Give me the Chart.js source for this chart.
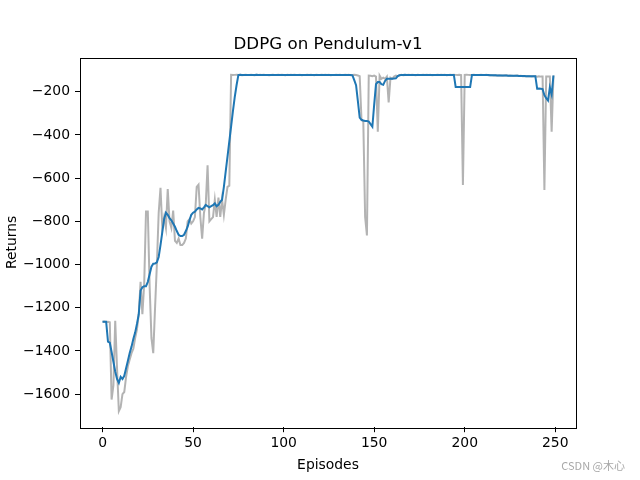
<!DOCTYPE html>
<html>
<head>
<meta charset="utf-8">
<script src="https://cdn.jsdelivr.net/npm/chart.js@4.4.0/dist/chart.umd.min.js"></script>
<style>
  html, body { margin: 0; padding: 0; background: #fff; }
  canvas { display: block; }
</style>
</head>
<body>
<canvas id="chart" width="640" height="480"></canvas>
<script>
// raw episode returns (grey)
const returns = [
  -1265, -1264, -1266, -1265, -1267, -1625, -1560, -1260, -1480, -1678,
  -1660, -1600, -1590, -1520, -1470, -1440, -1410, -1390, -1340, -1300,
  -1230, -1080, -1230, -1090, -755, -755, -1100, -1340, -1410, -1200,
  -1000, -760, -645, -830, -780, -830, -650, -800, -830, -750,
  -890, -900, -880, -910, -910, -900, -880, -800, -790, -810,
  -800, -780, -640, -630, -780, -880, -760, -720, -540, -800,
  -790, -780, -700, -780, -690, -780, -700, -770, -700, -640,
  -635, -122, -123, -122, -121, -123, -122, -124, -123, -122,
  -123, -122, -121, -123, -124, -122, -123, -122, -123, -121,
  -122, -123, -124, -123, -122, -123, -122, -121, -123, -122,
  -123, -124, -122, -123, -122, -123, -121, -122, -123, -122,
  -124, -123, -122, -121, -123, -122, -123, -124, -122, -123,
  -122, -121, -123, -122, -123, -122, -124, -123, -122, -121,
  -123, -122, -123, -122, -121, -123, -122, -124, -123, -122,
  -123, -125, -128, -330, -340, -780, -865, -125, -126, -128,
  -125, -130, -385, -125, -140, -135, -140, -130, -250, -135,
  -140, -130, -125, -128, -123, -122, -124, -123, -122, -121,
  -123, -122, -123, -124, -122, -123, -122, -121, -123, -122,
  -123, -122, -124, -123, -122, -121, -123, -122, -123, -122,
  -124, -123, -122, -123, -121, -122, -123, -122, -123, -632,
  -122, -121, -122, -123, -122, -121, -122, -123, -122, -121,
  -122, -123, -122, -124, -123, -124, -125, -124, -125, -124,
  -125, -126, -125, -124, -126, -125, -126, -127, -126, -125,
  -127, -126, -128, -127, -128, -127, -128, -129, -128, -128,
  -130, -128, -130, -130, -655, -130, -130, -130, -385, -125
];

// smoothed returns (blue)
const smoothed = [
  -1265, -1265, -1265, -1357, -1362, -1405, -1450, -1495, -1530, -1548,
  -1520, -1530, -1515, -1480, -1445, -1410, -1380, -1345, -1315, -1275,
  -1230, -1120, -1105, -1100, -1100, -1080, -1045, -1010, -996, -995,
  -990, -965, -910, -850, -790, -760, -770, -785, -795, -810,
  -825, -845, -862, -868, -868, -862, -845, -825, -795, -770,
  -760, -755, -745, -738, -740, -745, -735, -724, -730, -735,
  -730, -725, -717, -730, -724, -710, -700, -640, -570, -500,
  -430, -360, -290, -225, -170, -123, -122, -123, -122, -122,
  -123, -122, -122, -123, -123, -122, -123, -122, -122, -122,
  -122, -123, -123, -123, -122, -122, -122, -122, -123, -123,
  -123, -122, -122, -122, -122, -122, -122, -122, -123, -123,
  -123, -122, -122, -122, -122, -123, -123, -123, -123, -122,
  -122, -122, -122, -123, -123, -122, -122, -122, -122, -122,
  -122, -123, -123, -122, -122, -122, -122, -123, -124, -146,
  -170, -243, -320, -330, -333, -335, -335, -338, -350, -362,
  -260, -165, -155, -155, -165, -168, -150, -140, -140, -140,
  -140, -139, -138, -128, -124, -123, -123, -122, -123, -122,
  -122, -122, -123, -122, -122, -122, -122, -122, -122, -122,
  -122, -123, -122, -122, -122, -122, -122, -122, -122, -123,
  -122, -122, -122, -122, -122, -178, -178, -178, -178, -178,
  -178, -178, -178, -178, -122, -122, -122, -122, -122, -122,
  -123, -123, -123, -123, -124, -124, -124, -124, -125, -125,
  -125, -125, -125, -125, -126, -126, -126, -126, -126, -126,
  -127, -127, -127, -127, -128, -128, -128, -128, -128, -128,
  -186, -185, -186, -188, -216, -230, -241, -180, -213, -125
];

const episodes = returns.map((_, i) => i);
const xTicks = [0, 50, 100, 150, 200, 250];
const yTicks = [-1600, -1400, -1200, -1000, -800, -600, -400, -200];

const FONT = 'DejaVu Sans';
Chart.defaults.font.family = FONT;
Chart.defaults.color = '#000';

// axes box like matplotlib's default subplot (80..576 x 57.6..427.2)
const extras = {
  id: 'extras',
  afterDraw(chart) {
    const { ctx, chartArea: a } = chart;
    ctx.save();
    ctx.strokeStyle = '#000';
    ctx.lineWidth = 1;
    ctx.strokeRect(Math.round(a.left) + 0.5, Math.round(a.top) + 0.5,
      Math.round(a.right - a.left), Math.round(a.bottom - a.top));

    ctx.fillStyle = '#000';
    ctx.textAlign = 'center';
    ctx.textBaseline = 'alphabetic';
    ctx.font = '16.7px "' + FONT + '"';
    ctx.fillText('DDPG on Pendulum-v1', (a.left + a.right) / 2, 49);

    ctx.font = '13.9px "' + FONT + '"';
    ctx.fillText('Episodes', (a.left + a.right) / 2, 469);

    ctx.save();
    ctx.translate(15.5, (a.top + a.bottom) / 2);
    ctx.rotate(-Math.PI / 2);
    ctx.fillText('Returns', 0, 0);
    ctx.restore();

    ctx.fillStyle = '#a8a8a8';
    ctx.textAlign = 'right';
    ctx.textBaseline = 'middle';
    ctx.font = '11px "Noto Sans CJK SC"';
    ctx.fillText('CSDN @木心', 625, 466);
    ctx.restore();
  }
};

const minus = v => (v < 0 ? '\u2212' + Math.abs(v) : String(v));

new Chart(document.getElementById('chart'), {
  type: 'line',
  data: {
    datasets: [
      {
        label: 'smoothed',
        data: episodes.map((x, i) => ({ x, y: smoothed[i] })),
        borderColor: '#1f77b4',
        borderWidth: 2,
        pointRadius: 0,
        tension: 0,
        order: 0
      },
      {
        label: 'returns',
        data: episodes.map((x, i) => ({ x, y: returns[i] })),
        borderColor: 'rgba(128,128,128,0.6)',
        borderWidth: 2,
        pointRadius: 0,
        tension: 0,
        order: 1
      }
    ]
  },
  options: {
    responsive: false,
    animation: false,
    events: [],
    layout: { padding: { top: 57.6, right: 64, left: 0, bottom: 0 } },
    plugins: { legend: { display: false }, title: { display: false }, tooltip: { enabled: false } },
    scales: {
      x: {
        type: 'linear',
        min: -12.45,
        max: 261.45,
        afterBuildTicks: s => { s.ticks = xTicks.map(v => ({ value: v })); },
        afterFit: s => { s.height = 52.8; },
        border: { display: false },
        grid: { drawOnChartArea: false, drawTicks: true, tickLength: 5, tickColor: '#000', tickWidth: 1 },
        ticks: { font: { size: 13.9 }, padding: 3, maxRotation: 0, color: '#000' }
      },
      y: {
        type: 'linear',
        min: -1753,
        max: -42,
        afterBuildTicks: s => { s.ticks = yTicks.map(v => ({ value: v })); },
        afterFit: s => { s.width = 80; },
        border: { display: false },
        grid: { drawOnChartArea: false, drawTicks: true, tickLength: 5, tickColor: '#000', tickWidth: 1 },
        ticks: { font: { size: 13.9 }, padding: 5, color: '#000', callback: minus }
      }
    }
  },
  plugins: [extras]
});
</script>
</body>
</html>
